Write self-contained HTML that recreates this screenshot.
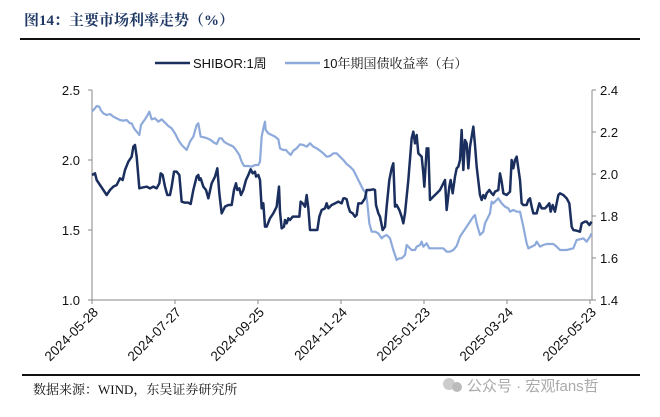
<!DOCTYPE html>
<html><head><meta charset="utf-8"><style>
body{margin:0;background:#fff;width:660px;height:412px;overflow:hidden;font-family:"Liberation Sans","Noto Sans CJK SC",sans-serif}
</style></head><body>
<svg width="660" height="412" viewBox="0 0 660 412" xmlns="http://www.w3.org/2000/svg">
<text x="24" y="25" font-family="Liberation Serif,'Noto Serif CJK SC',serif" font-weight="bold" font-size="15" fill="#1f3864">图14：主要市场利率走势（%）</text>
<line x1="20" y1="39" x2="640" y2="39" stroke="#111" stroke-width="2"/>
<line x1="155" y1="63" x2="190" y2="63" stroke="#1b2f5e" stroke-width="2.5"/>
<text x="193" y="68" font-size="13" fill="#111">SHIBOR:1周</text>
<line x1="285" y1="63" x2="320" y2="63" stroke="#8eaadb" stroke-width="2.5"/>
<text x="323" y="68" font-size="13" fill="#111" font-family="Liberation Sans,'Noto Serif CJK SC',serif">10年期国债收益率（右）</text>
<g stroke="#888" stroke-width="1" fill="none">
<line x1="92" y1="90" x2="92" y2="300"/><line x1="592" y1="90" x2="592" y2="300"/>
<line x1="92" y1="300" x2="592" y2="300"/>
<path d="M88 90H92M88 160H92M88 230H92M88 300H92M592 90H596M592 132H596M592 174H596M592 216H596M592 258H596M592 300H596"/>
<path d="M92 300V304M175 300V304M258 300V304M341 300V304M424 300V304M507 300V304M590 300V304"/>
</g>
<g font-size="13" fill="#111">
<text x="80" y="95" text-anchor="end">2.5</text><text x="80" y="165" text-anchor="end">2.0</text><text x="80" y="235" text-anchor="end">1.5</text><text x="80" y="305" text-anchor="end">1.0</text>
<text x="600" y="95">2.4</text><text x="600" y="137">2.2</text><text x="600" y="179">2.0</text><text x="600" y="221">1.8</text><text x="600" y="263">1.6</text><text x="600" y="305">1.4</text>
</g>
<g font-size="13.5" fill="#111" text-anchor="end">
<text transform="translate(99,313) rotate(-45)">2024-05-28</text>
<text transform="translate(182,313) rotate(-45)">2024-07-27</text>
<text transform="translate(265,313) rotate(-45)">2024-09-25</text>
<text transform="translate(348,313) rotate(-45)">2024-11-24</text>
<text transform="translate(431,313) rotate(-45)">2025-01-23</text>
<text transform="translate(514,313) rotate(-45)">2025-03-24</text>
<text transform="translate(597,313) rotate(-45)">2025-05-23</text>
</g>
<g transform="translate(80,80) scale(0.33333)" fill="none" stroke-linejoin="round">
<polyline vector-effect="non-scaling-stroke" stroke="#8eaadb" stroke-width="2.2" points="36,95 40,90 45,85 50,78 58,80 62,90 70,100 80,105 90,102 100,110 110,115 120,120 130,122 140,120 150,130 155,130 162,145 170,155 178,165 183,135 190,125 195,118 200,110 208,95 215,118 225,115 235,125 245,118 255,128 265,138 275,145 285,160 295,180 305,195 315,205 320,210 330,185 340,170 350,135 355,130 362,170 372,172 382,175 392,180 402,188 410,192 418,175 425,175 432,185 440,190 450,195 460,200 468,210 478,225 485,245 492,258 505,258 515,260 525,255 535,255 540,245 545,170 550,145 555,125 557,150 565,160 575,165 585,170 595,178 600,205 610,210 618,210 625,218 632,225 640,212 650,205 660,193 670,195 680,200 690,190 700,200 710,205 720,212 730,220 740,230 750,228 760,220 770,220 780,230 790,240 800,252 810,260 820,270 830,290 840,310 850,330 858,340 862,370 868,430 875,455 885,455 895,460 905,475 910,470 920,465 930,475 940,510 950,540 958,535 965,535 975,525 980,495 985,500 995,510 1005,510 1010,500 1020,495 1025,485 1030,500 1040,490 1048,505 1060,505 1075,505 1090,505 1100,515 1110,515 1120,510 1130,498 1140,470 1150,455 1160,440 1170,425 1180,410 1185,405 1190,430 1200,465 1210,455 1215,430 1220,420 1230,400 1235,365 1240,370 1250,360 1255,355 1265,370 1275,380 1285,385 1290,395 1300,390 1310,395 1320,395 1330,440 1340,490 1345,505 1355,500 1365,495 1370,485 1380,500 1390,495 1400,492 1410,492 1420,492 1430,500 1440,510 1460,510 1480,505 1490,480 1500,478 1510,475 1520,485 1530,470 1535,460"/>
<polyline vector-effect="non-scaling-stroke" stroke="#1b2f5e" stroke-width="2.5" points="36,285 45,280 50,300 60,315 70,330 80,345 90,330 100,320 110,315 120,295 128,300 135,270 145,245 155,230 160,200 165,195 170,230 178,325 190,322 200,320 210,325 220,320 230,325 238,310 242,280 248,285 255,320 262,345 270,345 275,320 282,275 290,275 298,285 305,365 315,368 325,368 332,372 340,330 350,290 355,285 358,300 362,295 370,320 378,330 385,355 395,310 405,290 412,265 418,340 425,400 435,380 445,375 455,375 462,330 468,310 472,330 478,325 483,345 490,330 498,300 505,285 512,268 518,280 525,275 528,290 535,285 540,300 545,385 550,370 555,440 560,440 570,415 580,400 590,380 597,320 600,395 605,445 612,440 615,420 620,430 625,415 630,420 638,410 650,410 658,410 662,365 668,370 675,380 680,345 685,385 690,450 700,450 712,450 718,410 725,390 735,385 740,370 745,385 755,375 765,370 775,365 785,370 790,355 795,355 800,358 805,380 810,395 818,400 825,410 830,405 835,370 845,370 855,355 860,330 870,330 880,328 885,330 888,375 895,400 900,410 908,450 915,440 920,380 928,300 935,265 940,250 945,380 950,375 958,390 965,410 970,430 975,400 985,300 995,175 1000,155 1005,190 1010,165 1015,220 1025,230 1030,280 1033,320 1040,205 1045,205 1050,360 1060,350 1070,340 1080,330 1090,310 1095,300 1100,390 1108,320 1112,300 1118,340 1125,290 1130,265 1135,260 1140,240 1145,150 1150,270 1155,180 1160,190 1165,265 1170,200 1175,170 1180,140 1185,195 1190,260 1200,345 1205,360 1210,345 1215,355 1220,340 1228,330 1235,340 1240,345 1245,335 1255,330 1260,280 1265,305 1270,340 1280,345 1290,335 1295,240 1300,265 1305,240 1310,230 1320,300 1325,370 1330,375 1340,375 1345,360 1350,355 1355,380 1360,400 1370,400 1378,370 1385,385 1395,385 1400,380 1408,370 1412,395 1418,375 1425,395 1435,345 1440,340 1450,345 1460,355 1468,370 1475,440 1480,450 1490,452 1500,455 1505,430 1515,425 1520,425 1528,435 1535,425"/>
</g>
<line x1="22" y1="375" x2="640" y2="375" stroke="#111" stroke-width="2"/>
<text x="33" y="394" font-size="13" fill="#111" font-family="Liberation Serif,'Noto Serif CJK SC',serif">数据来源：WIND，东吴证券研究所</text>
<circle cx="449" cy="384" r="6" fill="#ccc"/><circle cx="457" cy="387" r="5" fill="#bbb"/>
<text x="467" y="391" font-size="15" fill="#aaa" font-family="Liberation Sans,'Noto Sans CJK SC',sans-serif">公众号 · 宏观fans哲</text>
</svg>
</body></html>
